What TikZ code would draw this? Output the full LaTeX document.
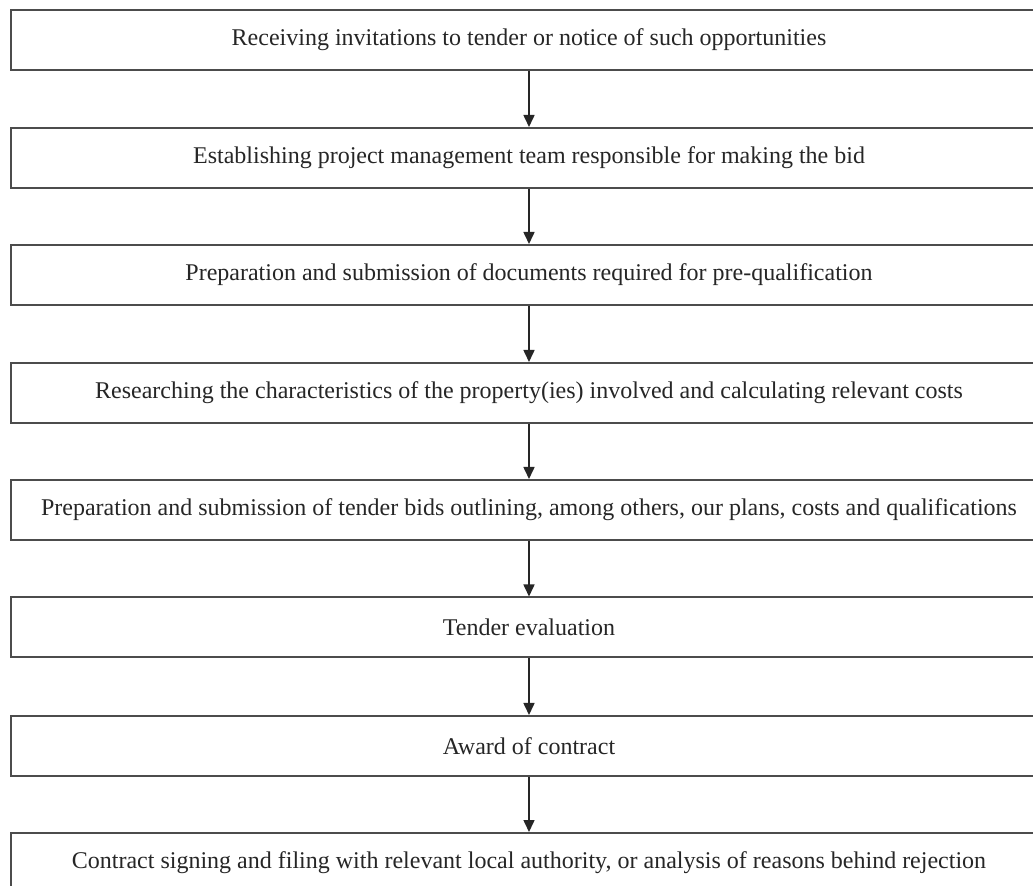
\documentclass[tikz,border=0pt]{standalone}
\usepackage{fontspec}
\setmainfont{Liberation Serif}
\usetikzlibrary{arrows.meta}
\begin{document}
\begin{tikzpicture}[x=0.5pt,y=-0.5pt,
  stepbox/.style={draw=black!70, line width=1pt, fill=white, minimum width=518pt, minimum height=30pt, inner sep=0pt, text=black!85, font=\fontsize{12pt}{14pt}\selectfont},
  flow/.style={draw=black!85, line width=0.8pt, -{Triangle[length=6pt,width=5.5pt]}}]
\useasboundingbox (0,0) rectangle (1033,886);
\clip (0,0) rectangle (1033,886);
\fill[white] (0,0) rectangle (1033,886);
\node[stepbox] (b1) at (529,40) {Receiving invitations to tender or notice of such opportunities};
\node[stepbox] (b2) at (529,158) {Establishing project management team responsible for making the bid};
\node[stepbox] (b3) at (529,275) {Preparation and submission of documents required for pre-qualification};
\node[stepbox] (b4) at (529,393) {Researching the characteristics of the property(ies) involved and calculating relevant costs};
\node[stepbox] (b5) at (529,510) {Preparation and submission of tender bids outlining, among others, our plans, costs and qualifications};
\node[stepbox] (b6) at (529,627.5) {Tender evaluation};
\node[stepbox] (b7) at (529,746) {Award of contract};
\node[stepbox] (b8) at (529,863) {Contract signing and filing with relevant local authority, or analysis of reasons behind rejection};
\foreach \a/\b in {b1/b2,b2/b3,b3/b4,b4/b5,b5/b6,b6/b7,b7/b8}
  \draw[flow] (\a.south) -- (\b.north);
\end{tikzpicture}
\end{document}
